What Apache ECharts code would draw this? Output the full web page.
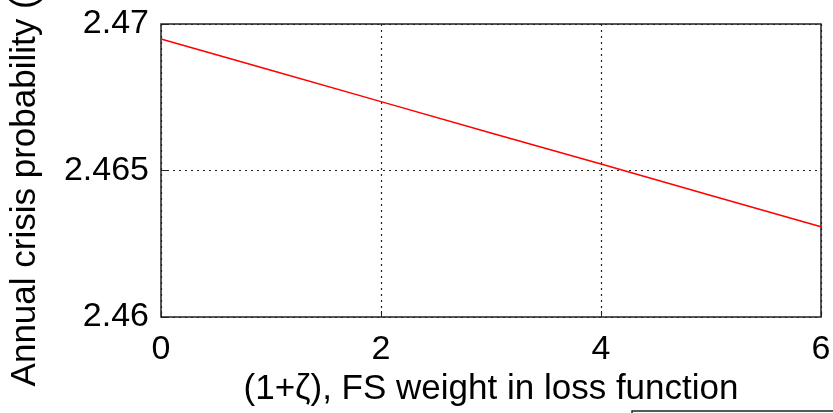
<!DOCTYPE html>
<html>
<head>
<meta charset="utf-8">
<script src="https://cdn.jsdelivr.net/npm/echarts@6/dist/echarts.min.js"></script>
<style>html,body{margin:0;padding:0;background:#fff}#c{width:833px;height:413px}</style>
</head>
<body>
<div id="c"></div>
<script>
var xValues = [0, 1, 2, 3, 4, 5, 6];
var crisisProb = [2.46949, 2.46842, 2.46735, 2.46628, 2.46522, 2.46415, 2.46308];
var xTicks = [0, 2, 4, 6];
var yTicks = [2.46, 2.465, 2.47];
var xTitle = '(1+\u03B6), FS weight in loss function';
var yTitle = 'Annual crisis probability (%)';

var chart = echarts.init(document.getElementById('c'));
var font = 'Liberation Sans, Arial, sans-serif';
chart.setOption({
  animation: false,
  grid: {left: 161, right: 12, top: 24, bottom: 96, outerBoundsMode: 'none', containLabel: false,
    show: true, borderColor: '#222', borderWidth: 1.5, backgroundColor: '#fff'},
  xAxis: {
    type: 'value', min: 0, max: 6, interval: 2,
    name: xTitle, nameLocation: 'middle', nameGap: 54,
    nameTextStyle: {fontFamily: font, fontSize: 35, color: '#000'},
    axisLine: {show: false},
    axisTick: {show: true, inside: true, length: 6, lineStyle: {color: '#222'}},
    axisLabel: {fontFamily: font, fontSize: 34, color: '#000', margin: 16,
      formatter: function (v) { return xTicks.indexOf(v) >= 0 ? String(v) : ''; }},
    splitLine: {show: true, lineStyle: {color: '#222', type: [2, 4], width: 1.2}}
  },
  yAxis: {
    type: 'value', min: 2.46, max: 2.47, interval: 0.005,
    name: yTitle, nameLocation: 'middle', nameGap: 118, nameRotate: 90,
    nameTextStyle: {fontFamily: font, fontSize: 35, color: '#000'},
    axisLine: {show: false},
    axisTick: {show: true, inside: true, length: 6, lineStyle: {color: '#222'}},
    axisLabel: {fontFamily: font, fontSize: 34, color: '#000', margin: 12,
      formatter: function (v) {
        for (var i = 0; i < yTicks.length; i++) if (Math.abs(v - yTicks[i]) < 1e-9) return String(yTicks[i]);
        return '';
      }},
    splitLine: {show: true, lineStyle: {color: '#222', type: [2, 4], width: 1.2}}
  },
  series: [{
    type: 'line', data: xValues.map(function (x, i) { return [x, crisisProb[i]]; }),
    showSymbol: false, lineStyle: {color: '#ff0000', width: 1.5}
  }],
  graphic: [{
    type: 'polyline', shape: {points: [[632, 420], [632, 411], [840, 411]]},
    style: {stroke: '#222', lineWidth: 1.5, fill: null}
  }]
});
</script>
</body>
</html>
